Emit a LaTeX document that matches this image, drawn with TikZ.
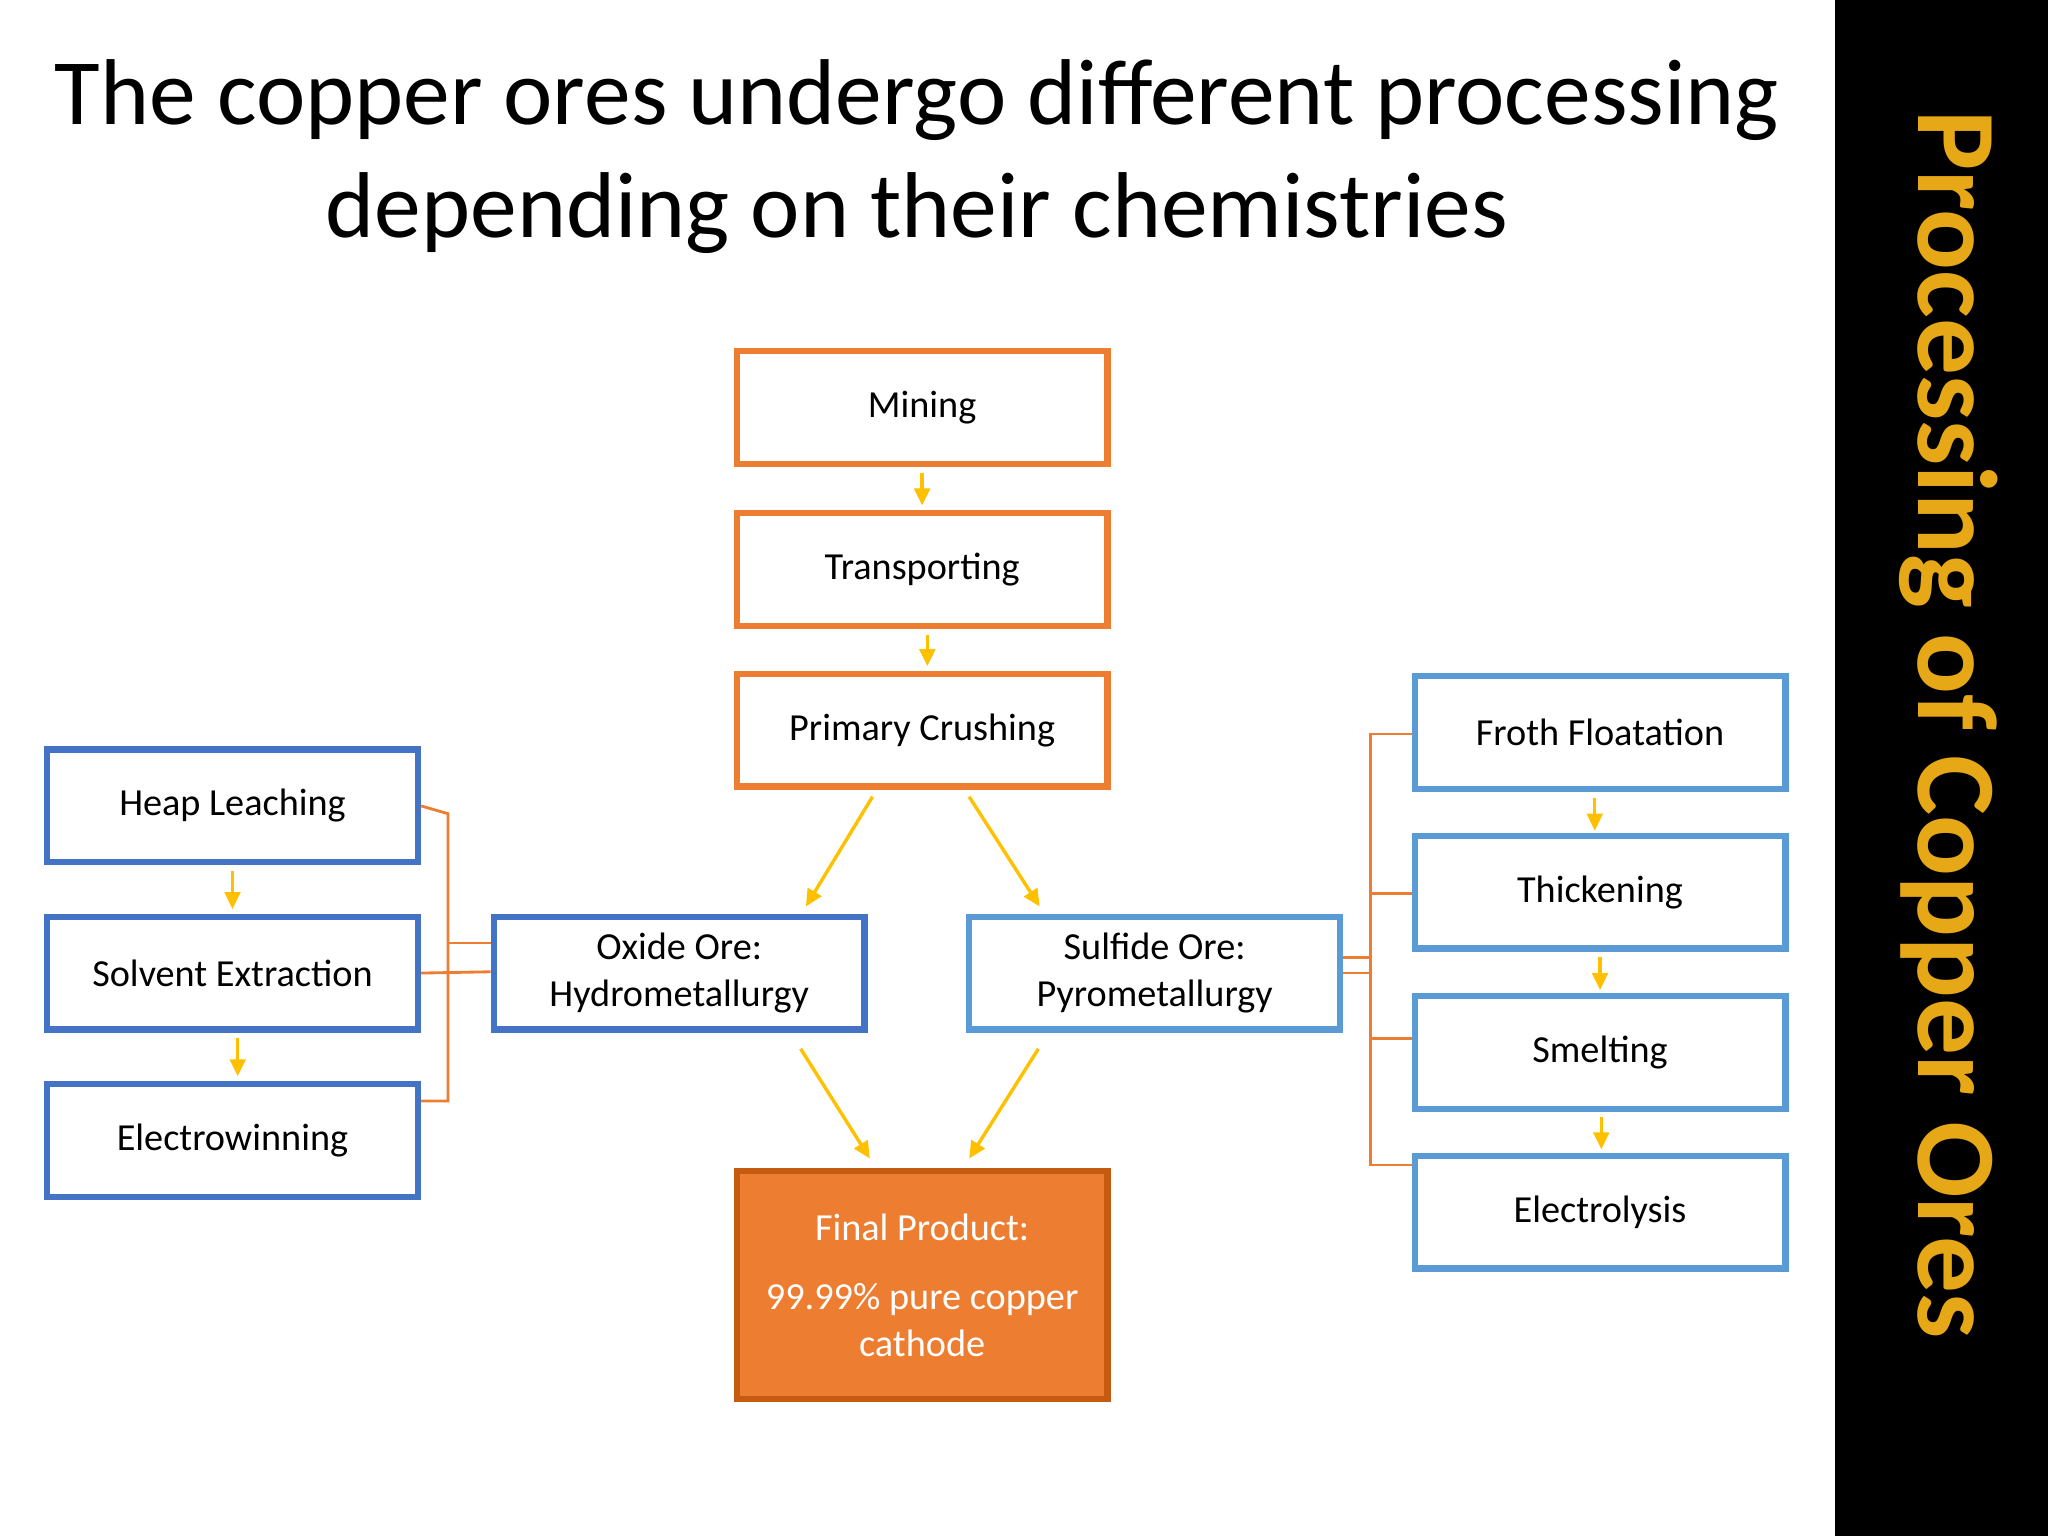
\documentclass[tikz,border=0pt]{standalone}
\usepackage{fontspec}
\setmainfont{Carlito}
\usetikzlibrary{arrows.meta}
\definecolor{org}{HTML}{ED7D31}
\definecolor{dorg}{HTML}{C55A11}
\definecolor{dblue}{HTML}{4472C4}
\definecolor{lblue}{HTML}{5B9BD5}
\definecolor{yel}{HTML}{FFC000}
\definecolor{ttl}{HTML}{E6A817}
\begin{document}
\begin{tikzpicture}[x=0.0162cm,y=-0.0162cm,
 box/.style={draw, line width=2.2pt, minimum width=4.6cm, minimum height=1.4cm, inner sep=0pt, font=\fontsize{13.5}{16.5}\selectfont, align=center},
 ob/.style={box, draw=org},
 db/.style={box, draw=dblue},
 lb/.style={box, draw=lblue},
 ya/.style={draw=yel, line width=1.2pt, -{Triangle[length=6pt,width=5.5pt]}},
 br/.style={draw=org, line width=1pt}]
\useasboundingbox (0,0) rectangle (1568,1176);
\fill[black] (1405,0) rectangle (1568,1176);
\node[rotate=-90, text=ttl, font=\fontsize{40}{46}\selectfont\bfseries] (side) at (1492,555) {Processing of Copper Ores};
\node[font=\fontsize{33}{40}\selectfont, align=center] (title) at (702,120) {The copper ores undergo different processing\\depending on their chemistries};
\node[ob] (min) at (706,312) {Mining};
\node[ob] (tra) at (706,436) {Transporting};
\node[ob] (cru) at (706,559) {Primary Crushing};
\node[db] (hea) at (178,617) {Heap Leaching};
\node[db] (sol) at (178,745) {Solvent Extraction};
\node[db] (ele) at (178,873) {Electrowinning};
\node[db] (oxi) at (520,745) {Oxide Ore:\\Hydrometallurgy};
\node[lb] (sul) at (884,745) {Sulfide Ore:\\Pyrometallurgy};
\node[lb] (fro) at (1225,561) {Froth Floatation};
\node[lb] (thi) at (1225,683) {Thickening};
\node[lb] (sme) at (1225,806) {Smelting};
\node[lb] (ely) at (1225,928) {Electrolysis};
\node[box, draw=dorg, fill=org, text=white, minimum height=2.83cm] (fin) at (706,984) {Final Product:\\[8pt]99.99\% pure copper\\cathode};
% yellow arrows
\coordinate (a1) at (706,362); \coordinate (a2) at (706,387);
\coordinate (a3) at (710,486); \coordinate (a4) at (710,510);
\coordinate (a5) at (178,667); \coordinate (a6) at (178,696);
\coordinate (a7) at (182,795); \coordinate (a8) at (182,824);
\coordinate (a9) at (1221,611); \coordinate (a10) at (1221,636);
\coordinate (a11) at (1225,733); \coordinate (a12) at (1225,758);
\coordinate (a13) at (1226,855); \coordinate (a14) at (1226,880);
\draw[ya] (a1) -- (a2); \draw[ya] (a3) -- (a4);
\draw[ya] (a5) -- (a6); \draw[ya] (a7) -- (a8);
\draw[ya] (a9) -- (a10); \draw[ya] (a11) -- (a12); \draw[ya] (a13) -- (a14);
\coordinate (c1) at (668,610); \coordinate (c2) at (617,694);
\coordinate (c3) at (742,610); \coordinate (c4) at (796,694);
\coordinate (c5) at (613,803); \coordinate (c6) at (666,887);
\coordinate (c7) at (795,803); \coordinate (c8) at (742,887);
\draw[ya] (c1) -- (c2); \draw[ya] (c3) -- (c4);
\draw[ya] (c5) -- (c6); \draw[ya] (c7) -- (c8);
% orange brackets left
\draw[br] (hea.east) -- (343,623) -- (343,843) -- (ele.east|-0,843);
\draw[br] (343,722) -- (oxi.west|-0,722);
\draw[br] (sol.east) -- (oxi.west|-0,744);
% right
\draw[br] (fro.west|-0,562) -- (1049,562) -- (1049,892) -- (ely.west|-0,892);
\draw[br] (1049,684) -- (thi.west|-0,684);
\draw[br] (1049,795) -- (sme.west|-0,795);
\draw[br] (sul.east|-0,733) -- (1049,733);
\draw[br] (sul.east|-0,745) -- (1049,745);
\end{tikzpicture}
\end{document}
